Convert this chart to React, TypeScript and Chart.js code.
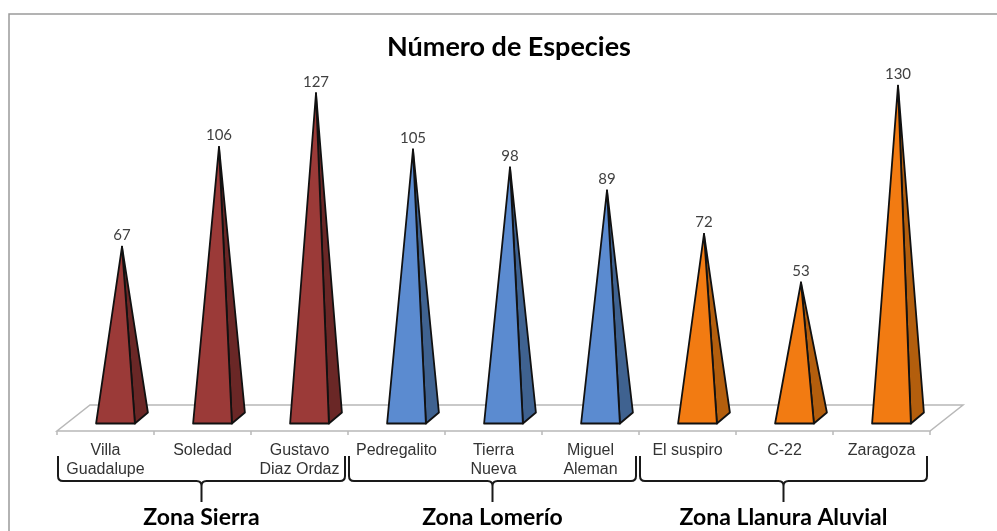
import React, { useEffect, useRef } from "react";
import { Chart, registerables } from "chart.js";

Chart.register(...registerables);

const TITLE = "Número de Especies";
const categories: string[][] = [
  ["Villa", "Guadalupe"],
  ["Soledad"],
  ["Gustavo", "Diaz Ordaz"],
  ["Pedregalito"],
  ["Tierra", "Nueva"],
  ["Miguel", "Aleman"],
  ["El suspiro"],
  ["C-22"],
  ["Zaragoza"],
];
const especies: number[] = [67, 106, 127, 105, 98, 89, 72, 53, 130];
const groupNames: string[] = ["Zona Sierra", "Zona Lomerío", "Zona Llanura Aluvial"];
const groupStart: number[] = [0, 3, 6];
const groupEnd: number[] = [2, 5, 8];

const frontColors = ["#9B3A38", "#9B3A38", "#9B3A38", "#5B8BD0", "#5B8BD0", "#5B8BD0", "#F27B12", "#F27B12", "#F27B12"];
const sideColors = ["#6A2726", "#6A2726", "#6A2726", "#3F6290", "#3F6290", "#3F6290", "#B35E0D", "#B35E0D", "#B35E0D"];

const pyramidPlugin = {
  id: "pyramids",
  beforeDatasetsDraw(chart: any) {
    const ctx = chart.ctx;
    const ys = chart.scales.y;
    const area = chart.chartArea;
    const zeroY = ys.getPixelForValue(0);
    const step = (area.right - area.left) / categories.length;
    const frontY = zeroY + 13;
    const dx = 33, dy = -26;
    ctx.save();
    ctx.strokeStyle = "#b8b8b8";
    ctx.lineWidth = 1.5;
    ctx.fillStyle = "#ffffff";
    ctx.beginPath();
    ctx.moveTo(area.left, frontY);
    ctx.lineTo(area.right, frontY);
    ctx.lineTo(area.right + dx, frontY + dy);
    ctx.lineTo(area.left + dx, frontY + dy);
    ctx.closePath();
    ctx.fill();
    ctx.stroke();
    for (let i = 0; i <= categories.length; i++) {
      const x = area.left + i * step;
      ctx.beginPath();
      ctx.moveTo(x, frontY);
      ctx.lineTo(x, frontY + 4);
      ctx.stroke();
    }
    ctx.restore();
  },
  afterDatasetsDraw(chart: any) {
    const ctx = chart.ctx;
    const ys = chart.scales.y;
    const zeroY = ys.getPixelForValue(0);
    const meta = chart.getDatasetMeta(0);
    ctx.save();
    meta.data.forEach((bar: any, i: number) => {
      const w = bar.width;
      const cx = bar.x + 10;
      const ddx = 13, ddy = -11;
      const by = zeroY + 5.5;
      const fl = { x: cx - w / 2, y: by };
      const fr = { x: cx + w / 2, y: by };
      const br = { x: fr.x + ddx, y: by + ddy };
      const apex = { x: cx + ddx / 2, y: bar.y };
      ctx.lineJoin = "round";
      ctx.lineWidth = 1.8;
      ctx.strokeStyle = "#111";
      ctx.fillStyle = sideColors[i];
      ctx.beginPath();
      ctx.moveTo(fr.x, fr.y);
      ctx.lineTo(br.x, br.y);
      ctx.lineTo(apex.x, apex.y);
      ctx.closePath();
      ctx.fill();
      ctx.stroke();
      ctx.fillStyle = frontColors[i];
      ctx.beginPath();
      ctx.moveTo(fl.x, fl.y);
      ctx.lineTo(fr.x, fr.y);
      ctx.lineTo(apex.x, apex.y);
      ctx.closePath();
      ctx.fill();
      ctx.stroke();
      ctx.fillStyle = "#404040";
      ctx.font = "15px Lato";
      ctx.textAlign = "center";
      ctx.textBaseline = "bottom";
      ctx.fillText(String(especies[i]), apex.x, apex.y - 4);
    });
    ctx.restore();
  },
  afterDraw(chart: any) {
    const ctx = chart.ctx;
    const area = chart.chartArea;
    const step = (area.right - area.left) / categories.length;
    ctx.save();
    // frame
    ctx.strokeStyle = "#9a9a9a";
    ctx.lineWidth = 1.5;
    ctx.beginPath();
    ctx.moveTo(9, chart.height + 2);
    ctx.lineTo(9, 14);
    ctx.lineTo(chart.width + 2, 14);
    ctx.stroke();
    // title
    ctx.fillStyle = "#000";
    ctx.font = "bold 27px Lato";
    ctx.textAlign = "center";
    ctx.textBaseline = "middle";
    ctx.fillText(TITLE, 509, 47);
    // braces
    ctx.strokeStyle = "#1a1a1a";
    ctx.lineWidth = 2;
    const topY = 456, barY = 481, tipY = 502, r = 5;
    groupNames.forEach((name, g) => {
      const l = area.left + groupStart[g] * step + 1;
      const rr = area.left + (groupEnd[g] + 1) * step - 3;
      const c = (l + rr) / 2;
      ctx.beginPath();
      ctx.moveTo(l, topY);
      ctx.lineTo(l, barY - r);
      ctx.quadraticCurveTo(l, barY, l + r, barY);
      ctx.lineTo(c - r, barY);
      ctx.quadraticCurveTo(c, barY, c, barY + r);
      ctx.lineTo(c, tipY);
      ctx.moveTo(c, barY + r);
      ctx.quadraticCurveTo(c, barY, c + r, barY);
      ctx.lineTo(rr - r, barY);
      ctx.quadraticCurveTo(rr, barY, rr, barY - r);
      ctx.lineTo(rr, topY);
      ctx.stroke();
      ctx.fillStyle = "#000";
      ctx.font = "bold 23px Lato";
      ctx.textAlign = "center";
      ctx.textBaseline = "middle";
      ctx.fillText(name, c, 518);
    });
    ctx.restore();
  },
};

export default function App() {
  const ref = useRef<HTMLCanvasElement | null>(null);
  useEffect(() => {
    document.body.style.margin = "0";
    document.body.style.overflow = "hidden";
    const chart = new Chart(ref.current as HTMLCanvasElement, {
      type: "bar",
      data: {
        labels: categories,
        datasets: [
          {
            data: especies,
            backgroundColor: "rgba(0,0,0,0)",
            borderWidth: 0,
            barPercentage: 0.4,
            categoryPercentage: 1,
          },
        ],
      },
      options: {
        animation: false,
        responsive: false,
        layout: { padding: { left: 57, right: 67, top: 60, bottom: 0 } },
        plugins: {
          legend: { display: false },
          tooltip: { enabled: false },
          title: { display: false },
        },
        scales: {
          y: { display: false, min: 0, max: 140 },
          x: {
            grid: { display: false, drawTicks: false },
            border: { display: false },
            ticks: {
              color: "#333",
              font: { family: "Liberation Sans", size: 16, lineHeight: 1.2 },
              padding: 23,
              maxRotation: 0,
              autoSkip: false,
            },
            afterFit: (scale: any) => {
              scale.height = 113;
            },
          },
        },
      },
      plugins: [pyramidPlugin],
    });
    return () => chart.destroy();
  }, []);
  return <canvas ref={ref} width={997} height={531} style={{ display: "block" }} />;
}
